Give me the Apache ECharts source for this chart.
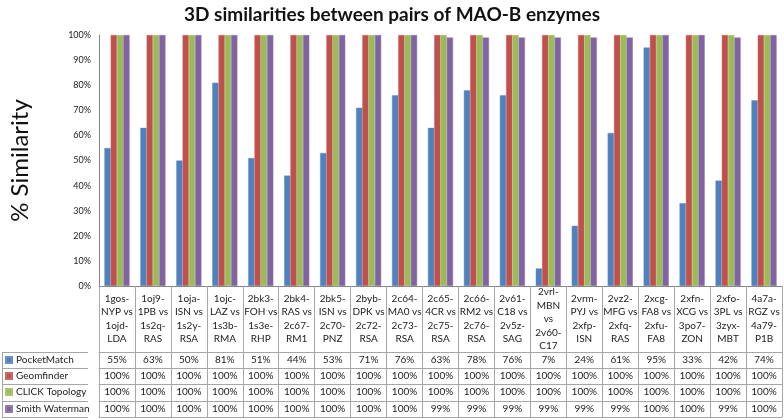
<!DOCTYPE html>
<html><head><meta charset="utf-8">
<script src="https://cdn.jsdelivr.net/npm/echarts@6/dist/echarts.min.js"></script>
<style>html,body{margin:0;padding:0;background:#fff}#c{width:784px;height:420px}</style>
</head><body><div id="c"></div>
<script>
const categories = [
 '1gos-\nNYP vs\n1ojd-\nLDA','1oj9-\n1PB vs\n1s2q-\nRAS','1oja-\nISN vs\n1s2y-\nRSA','1ojc-\nLAZ vs\n1s3b-\nRMA',
 '2bk3-\nFOH vs\n1s3e-\nRHP','2bk4-\nRAS vs\n2c67-\nRM1','2bk5-\nISN vs\n2c70-\nPNZ','2byb-\nDPK vs\n2c72-\nRSA',
 '2c64-\nMA0 vs\n2c73-\nRSA','2c65-\n4CR vs\n2c75-\nRSA','2c66-\nRM2 vs\n2c76-\nRSA','2v61-\nC18 vs\n2v5z-\nSAG',
 '2vrl-\nMBN\nvs\n2v60-\nC17','2vrm-\nPYJ vs\n2xfp-\nISN','2vz2-\nMFG vs\n2xfq-\nRAS','2xcg-\nFA8 vs\n2xfu-\nFA8',
 '2xfn-\nXCG vs\n3po7-\nZON','2xfo-\n3PL vs\n3zyx-\nMBT','4a7a-\nRGZ vs\n4a79-\nP1B'
];
const seriesNames = ['PocketMatch','Geomfinder','CLICK Topology','Smith Waterman'];
const pocketMatch   = [55,63,50,81,51,44,53,71,76,63,78,76,7,24,61,95,33,42,74];
const geomfinder    = [100,100,100,100,100,100,100,100,100,100,100,100,100,100,100,100,100,100,100];
const clickTopology = [100,100,100,100,100,100,100,100,100,100,100,100,100,100,100,100,100,100,100];
const smithWaterman = [100,100,100,100,100,100,100,100,100,99,99,99,99,99,99,100,100,99,100];
const yTicks = [0,10,20,30,40,50,60,70,80,90,100];

const colors = ['#4F81BD','#C0504D','#9BBB59','#8064A2'];
const rows = [pocketMatch, geomfinder, clickTopology, smithWaterman];
const FONT = 'Lato';
const H = 420, gridLeft = 88, gridRight = 2, gridTop = 35, gridBottom = 134;
const axisY = H - gridBottom;           // 286
const rowOffsets = [66, 82, 98, 115, 131];
const lineCol = '#a6a6a6';

const xAxes = [{
  type: 'category', data: categories, gridIndex: 0, position: 'bottom',
  axisLine: {lineStyle: {color: '#868686'}},
  axisTick: {show: true, length: rowOffsets[4], lineStyle: {color: lineCol}},
  axisLabel: {interval: 0, margin: 33, verticalAlign: 'middle', fontSize: 10, lineHeight: 13.5,
              color: '#222', fontFamily: FONT}
}];
rows.forEach((r, k) => {
  xAxes.push({
    type: 'category', data: categories, gridIndex: 0, position: 'bottom', offset: rowOffsets[k],
    axisLine: {lineStyle: {color: lineCol}}, axisTick: {show: false},
    axisLabel: {interval: 0, margin: 8, verticalAlign: 'middle', fontSize: 10, color: '#222', fontFamily: FONT,
                formatter: (v, i) => r[i] + '%'}
  });
});
xAxes.push({
  type: 'category', data: categories, gridIndex: 0, position: 'bottom', offset: rowOffsets[4],
  axisLine: {lineStyle: {color: lineCol}}, axisTick: {show: false}, axisLabel: {show: false}
});

const graphics = [];
const ys = rowOffsets.map(o => axisY + o);
ys.forEach(y => graphics.push({type: 'line', shape: {x1: 2, y1: y + 0.5, x2: gridLeft, y2: y + 0.5},
  style: {stroke: lineCol, lineWidth: 1}, silent: true}));
graphics.push({type: 'line', shape: {x1: 2.5, y1: ys[0], x2: 2.5, y2: ys[4]}, style: {stroke: lineCol, lineWidth: 1}});

const legends = seriesNames.map((n, k) => ({
  data: [n], left: 5, top: ys[k] + 3, orient: 'vertical', padding: 0,
  itemWidth: 6, itemHeight: 6, itemGap: 0, icon: 'rect', selectedMode: false,
  textStyle: {fontSize: 10, color: '#222', fontFamily: FONT, padding: [0, 0, 0, -1]}
}));

const chart = echarts.init(document.getElementById('c'), null, {renderer: 'canvas'});
chart.setOption({
  animation: false,
  color: colors,
  title: {text: '3D similarities between pairs of MAO-B enzymes', left: 'center', top: 0,
    textStyle: {fontSize: 19, fontWeight: 'bold', color: '#111', fontFamily: FONT}},
  legend: legends,
  grid: {left: gridLeft, right: gridRight, top: gridTop, bottom: gridBottom, containLabel: false},
  xAxis: xAxes,
  yAxis: {type: 'value', min: yTicks[0], max: yTicks[yTicks.length - 1], interval: 10,
    name: '% Similarity', nameLocation: 'middle', nameGap: 67,
    nameTextStyle: {fontSize: 24, color: '#111', fontFamily: FONT},
    axisLine: {show: true, lineStyle: {color: '#868686'}}, axisTick: {show: false},
    splitLine: {show: false},
    axisLabel: {formatter: '{value}%', fontSize: 9, color: '#222', margin: 8, fontFamily: FONT}},
  series: rows.map((r, k) => ({
    name: seriesNames[k], type: 'bar', data: r, barGap: '0%', barCategoryGap: '30%',
    itemStyle: {color: colors[k], borderColor: echarts.color.lift(colors[k], 0.15), borderWidth: 0.5}
  })),
  graphic: graphics
});
</script></body></html>
